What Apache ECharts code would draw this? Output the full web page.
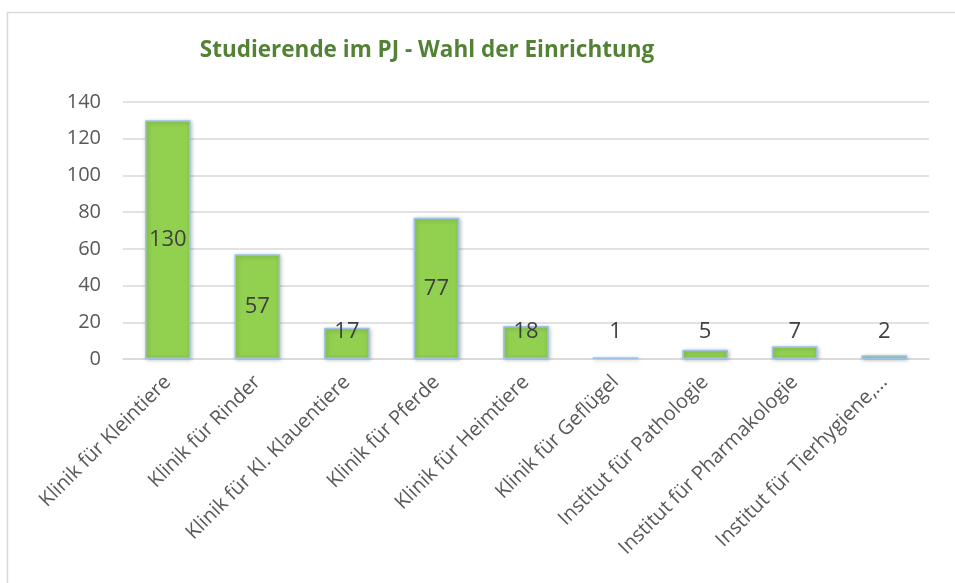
<!DOCTYPE html>
<html><head><meta charset="utf-8">
<script src="https://cdn.jsdelivr.net/npm/echarts@6/dist/echarts.min.js"></script>
<style>html,body{margin:0;padding:0;background:#fff}#c{width:955px;height:583px}</style>
</head><body><div id="c"></div>
<script>
const categories = ['Klinik für Kleintiere','Klinik für Rinder','Klinik für Kl. Klauentiere','Klinik für Pferde','Klinik für Heimtiere','Klinik für Geflügel','Institut für Pathologie','Institut für Pharmakologie','Institut für Tierhygiene,...'];
const values = [130, 57, 17, 77, 18, 1, 5, 7, 2];
const yTicks = [0, 20, 40, 60, 80, 100, 120, 140];
const titleText = 'Studierende im PJ - Wahl der Einrichtung';

const font = '"Open Sans", Lato, sans-serif';
const chart = echarts.init(document.getElementById('c'), null, {renderer:'canvas'});
const data = values.map(v => {
  const item = {value: v};
  if (v < 20) {
    item.label = {position: 'insideBottom', distance: 16};
  }
  return item;
});
chart.setOption({
  animation: false,
  graphic: [{type:'rect', shape:{x:7.5, y:12.5, width:960, height:600}, style:{fill:'none', stroke:'#d9d9d9', lineWidth:1.5}, silent:true}],
  title: {text: titleText, left: 422, top: 34, textAlign: 'center',
    textStyle: {fontFamily: font, fontSize: 22.5, fontWeight: 'bold', color: '#538135'}},
  grid: {left: 123, right: 26, top: 102, bottom: 224, containLabel: false},
  xAxis: {type:'category', data: categories,
    axisLine:{lineStyle:{color:'#d9d9d9', width:1.5}}, axisTick:{show:false},
    axisLabel:{rotate:45, interval:0, fontFamily:font, fontSize:20, color:'#595959', margin:20}},
  yAxis: {type:'value', min: yTicks[0], max: yTicks[yTicks.length-1], interval: 20,
    axisLine:{show:false}, axisTick:{show:false},
    splitLine:{lineStyle:{color:'#d9d9d9', width:1.5}},
    axisLabel:{fontFamily:font, fontSize:20, color:'#595959', margin:22}},
  series: [{type:'bar', data: data, barWidth: '51%',
    itemStyle:{color:'#92d050', borderColor:'#9dc3e6', borderWidth:1.5,
      shadowColor:'rgba(0,0,0,0.25)', shadowBlur:4, shadowOffsetX:1, shadowOffsetY:1},
    label:{show:true, position:'inside', fontFamily:font, fontSize:22, color:'#404040'}}]
});
</script></body></html>
